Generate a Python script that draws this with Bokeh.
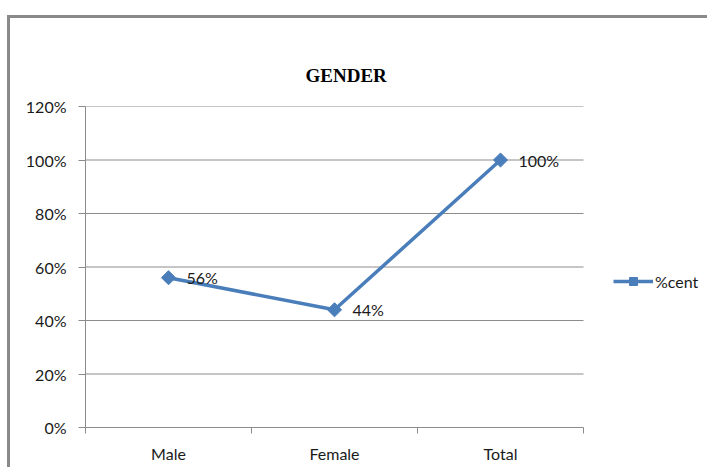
import math
from bokeh.plotting import figure
from bokeh.models import (ColumnDataSource, FixedTicker, NumeralTickFormatter,
                          Range1d, Legend, LegendItem)
from bokeh.core.properties import value
from bokeh.embed import file_html
from bokeh.resources import INLINE

categories = ["Male", "Female", "Total"]
percent = [0.56, 0.44, 1.00]
labels = ["56%", "44%", "100%"]
y_ticks = [0, 0.2, 0.4, 0.6, 0.8, 1.0, 1.2]
title_text = "GENDER"
series_name = "%cent"

n = len(categories)
xs = [i + 0.5 for i in range(n)]
src = ColumnDataSource(dict(x=xs, y=percent, lab=labels))
grid_src = ColumnDataSource(dict(y=y_ticks[1:], x0=[0] * (len(y_ticks) - 1),
                                 x1=[n] * (len(y_ticks) - 1)))

# canvas starts at page (10, 18) because of margin + border
W, H = 700, 452
ML, MR, MT, MB = 75, 0, 88, 43
frame_w = W - ML - MR
x_end = n * frame_w / 498.0   # extra room on the right for the legend

p = figure(width=W, height=H, output_backend="svg", toolbar_location=None,
           x_range=Range1d(0, x_end), y_range=Range1d(0, 1.2),
           min_border_left=ML, min_border_right=MR, min_border_top=MT,
           min_border_bottom=MB)
p.styles = {"margin-left": "7px", "margin-top": "15px",
            "border-left": "3px solid #8a8a8a", "border-top": "3px solid #8a8a8a"}
p.outline_line_color = None
p.background_fill_color = "white"
p.border_fill_color = "white"

font = "Lato"
grey = "#8c8c8c"

p.title.text = title_text
p.title.align = "left"
p.title.vertical_align = "bottom"
p.title.text_font = "Liberation Serif"
p.title.text_font_style = "bold"
p.title.text_font_size = "19px"
p.title.text_color = "#000000"
p.title.offset = 220
p.title.standoff = 42

# x axis
p.xaxis.ticker = FixedTicker(ticks=xs, minor_ticks=list(range(n + 1)))
p.xaxis.bounds = (0, n)
p.xaxis.major_label_overrides = {x: c for x, c in zip(xs, categories)}
p.xaxis.major_tick_line_color = None
p.xaxis.minor_tick_line_color = grey
p.xaxis.minor_tick_in = 0
p.xaxis.minor_tick_out = 6
p.xaxis.axis_line_color = grey
p.xaxis.major_label_text_font = font
p.xaxis.major_label_text_font_size = "16px"
p.xaxis.major_label_text_color = "#1a1a1a"
p.xaxis.major_label_standoff = 10
p.xgrid.grid_line_color = None

# y axis
p.yaxis.ticker = FixedTicker(ticks=y_ticks)
p.yaxis.formatter = NumeralTickFormatter(format="0%")
p.yaxis.minor_tick_line_color = None
p.yaxis.major_tick_line_color = grey
p.yaxis.major_tick_in = 0
p.yaxis.major_tick_out = 7
p.yaxis.axis_line_color = grey
p.yaxis.major_label_text_font = font
p.yaxis.major_label_text_font_size = "16px"
p.yaxis.major_label_text_color = "#1a1a1a"
p.yaxis.major_label_standoff = 12
p.ygrid.grid_line_color = None

p.segment("x0", "y", "x1", "y", source=grid_src, line_color=grey, line_width=1)

blue = "#4a7ebb"
ln = p.line("x", "y", source=src, line_color=blue, line_width=3.5)
mk = p.scatter("x", "y", source=src, marker="square", size=10, angle=math.pi / 4,
               fill_color=blue, line_color=blue)
p.text("x", "y", text="lab", source=src, x_offset=18, text_baseline="middle",
       text_font=value(font), text_font_size="16px", text_color="#1a1a1a")

legend = Legend(items=[LegendItem(label=series_name, renderers=[ln, mk])],
                location=(528, 136), glyph_width=40, label_standoff=2,
                label_text_font=font, label_text_font_size="16px",
                label_text_color="#1a1a1a",
                border_line_color=None, background_fill_alpha=0,
                padding=0, margin=0)
p.add_layout(legend)

open("out.html", "w").write(file_html(p, INLINE))
